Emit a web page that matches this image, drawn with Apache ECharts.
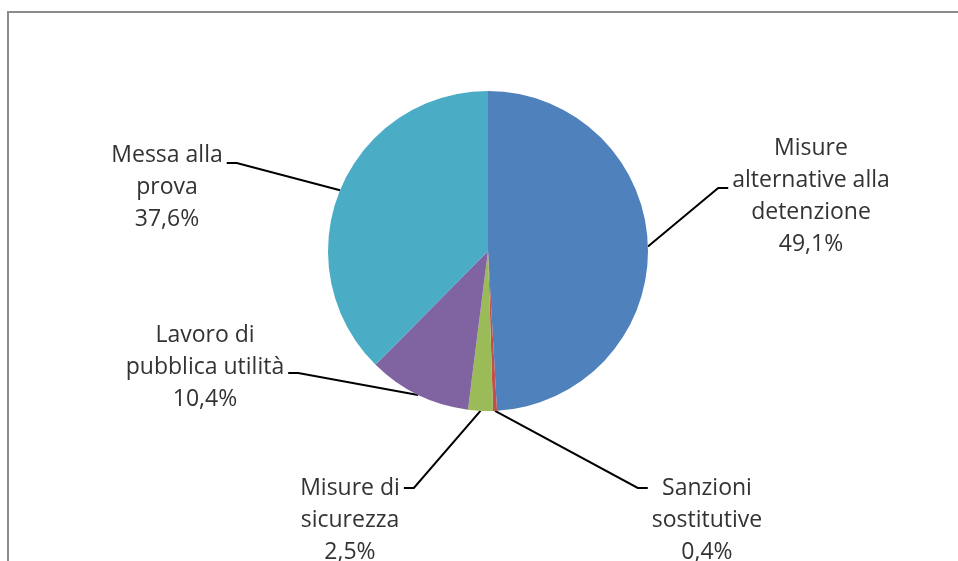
<!DOCTYPE html>
<html>
<head>
<meta charset="utf-8">
<script src="https://cdn.jsdelivr.net/npm/echarts@6/dist/echarts.min.js"></script>
<style>
  html, body { margin: 0; padding: 0; background: #fff; }
  #chart { width: 958px; height: 561px; }
</style>
</head>
<body>
<div id="chart"></div>
<script>
// categorie (con a capo come nel grafico originale)
const categories = [
  'Misure\nalternative alla\ndetenzione',
  'Sanzioni\nsostitutive',
  'Misure di\nsicurezza',
  'Lavoro di\npubblica utilità',
  'Messa alla\nprova'
];
// quote percentuali
const shares = [49.1, 0.4, 2.5, 10.4, 37.6];
const colors = ['#4F81BD', '#C0504D', '#9BBB59', '#8064A2', '#4BACC6'];

// posizione delle etichette (centro del blocco di testo) e quota del tratto orizzontale
const labelPos = [
  { x: 811, y: 196, side: 'right', lineY: 188 },
  { x: 707, y: 520, side: 'right', lineY: 488 },
  { x: 350, y: 520, side: 'left', lineY: 488 },
  { x: 205, y: 367, side: 'left', lineY: 373 },
  { x: 167, y: 187, side: 'left', lineY: 163 }
];

const myChart = echarts.init(document.getElementById('chart'));
const option = {
  animation: false,
  backgroundColor: '#fff',
  graphic: [
    {
      type: 'rect',
      shape: { x: 8, y: 12, width: 1400, height: 900 },
      style: { fill: 'none', stroke: '#8c8c8c', lineWidth: 2 },
      silent: true
    }
  ],
  series: [
    {
      type: 'pie',
      center: [488, 251],
      radius: 160,
      startAngle: 90,
      clockwise: true,
      avoidLabelOverlap: false,
      emphasis: { disabled: true },
      itemStyle: { borderWidth: 0 },
      label: {
        show: true,
        color: '#333',
        fontFamily: 'Open Sans',
        fontSize: 23,
        lineHeight: 32,
        align: 'center',
        formatter: function (p) {
          return p.name + '\n' + p.value.toFixed(1).replace('.', ',') + '%';
        }
      },
      labelLine: {
        show: true,
        length: 20,
        length2: 10,
        lineStyle: { color: '#000', width: 2 }
      },
      labelLayout: function (params) {
        const pos = labelPos[params.dataIndex];
        const w = params.labelRect.width;
        const start = params.labelLinePoints[0];
        let endX, elbowX;
        if (pos.side === 'right') {
          endX = pos.x - w / 2 - 4;
          elbowX = endX - 10;
        } else {
          endX = pos.x + w / 2 + 4;
          elbowX = endX + 10;
        }
        return {
          x: pos.x,
          y: pos.y,
          align: 'center',
          verticalAlign: 'middle',
          labelLinePoints: [start, [elbowX, pos.lineY], [endX, pos.lineY]]
        };
      },
      data: categories.map(function (name, i) {
        return { name: name, value: shares[i], itemStyle: { color: colors[i] } };
      })
    }
  ]
};
option && myChart.setOption(option);
</script>
</body>
</html>
